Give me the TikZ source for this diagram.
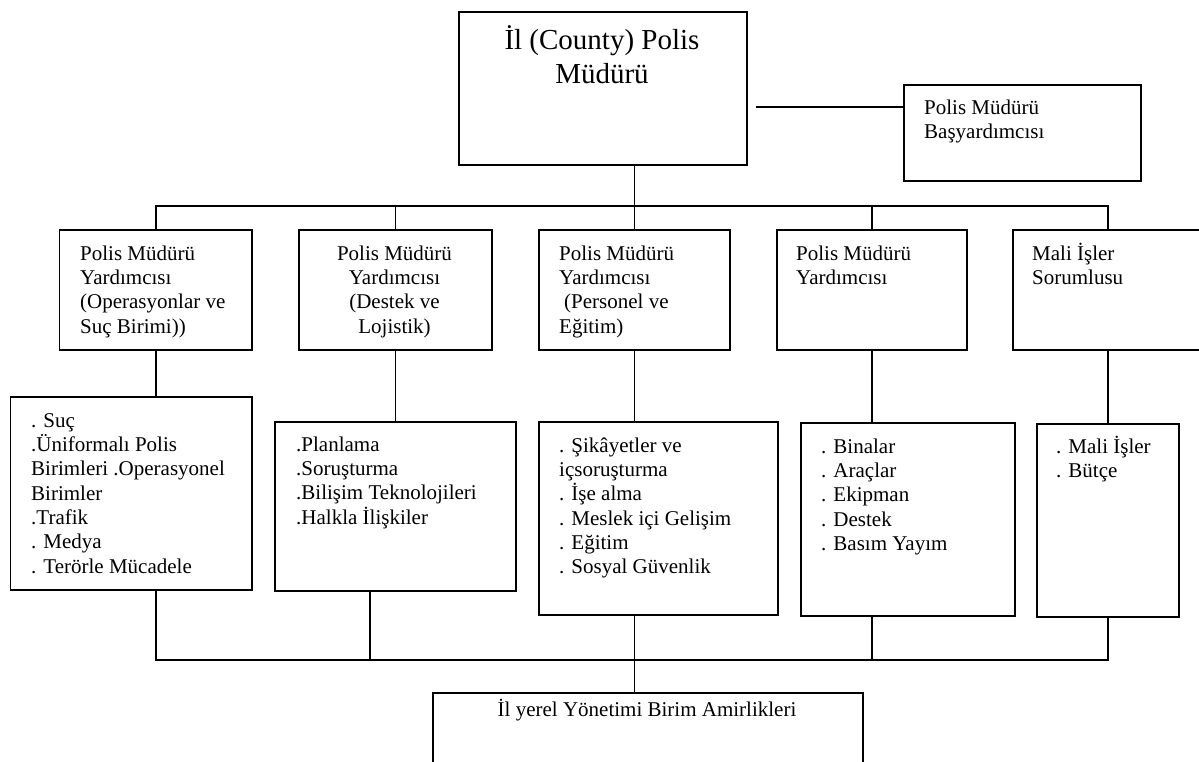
\documentclass[tikz,border=0pt]{standalone}
\usepackage{fontspec}
\setmainfont{Liberation Serif}
\begin{document}
\begin{tikzpicture}[x=1pt,y=-1pt,
  box/.style={draw,line width=1.8pt,rectangle,inner sep=0pt,anchor=north west},
  conn/.style={line width=1.8pt},
  txt/.style={inner sep=0pt,anchor=north west,align=left,font=\fontsize{21}{24.3}\selectfont},
  ctxt/.style={inner sep=0pt,anchor=north,align=center,font=\fontsize{21}{24.3}\selectfont}]
\path[use as bounding box] (0,0) rectangle (1199,762);
\clip (0,0) rectangle (1199,762);
% boxes
\node[box,minimum width=288pt,minimum height=153pt] (T) at (458,11) {};
\node[box,minimum width=237pt,minimum height=96pt] (B) at (903,84) {};
\node[box,minimum width=192.5pt,minimum height=120pt] (m1) at (58.5,229) {};
\node[box,minimum width=193pt,minimum height=120pt] (m2) at (298,229) {};
\node[box,minimum width=191pt,minimum height=120pt] (m3) at (538,229) {};
\node[box,minimum width=190pt,minimum height=120pt] (m4) at (776,229) {};
\node[box,minimum width=190pt,minimum height=120pt] (m5) at (1012,229) {};
\node[box,minimum width=241.4pt,minimum height=193pt] (l1) at (9.6,396) {};
\node[box,minimum width=241pt,minimum height=169pt] (l2) at (274,421) {};
\node[box,minimum width=239pt,minimum height=193pt] (l3) at (538,421) {};
\node[box,minimum width=214pt,minimum height=193pt] (l4) at (800,422) {};
\node[box,minimum width=142pt,minimum height=193pt] (l5) at (1036,423) {};
\node[box,minimum width=430pt,minimum height=120pt] (BB) at (432,692) {};
% texts
\node[ctxt,font=\fontsize{29}{34}\selectfont] (Tt) at (602,21) {\rule{0pt}{28pt}İl (County) Polis\\Müdürü};
\node[txt] (Bt) at (924,94) {\rule{0pt}{20pt}Polis Müdürü\\Başyardımcısı};
\node[txt] (m1t) at (80,240) {\rule{0pt}{20pt}Polis Müdürü\\Yardımcısı\\(Operasyonlar ve\\Suç Birimi))};
\node[ctxt] (m2t) at (394.5,240) {\rule{0pt}{20pt}Polis Müdürü\\Yardımcısı\\(Destek ve\\Lojistik)};
\node[txt] (m3t) at (559,240) {\rule{0pt}{20pt}Polis Müdürü\\Yardımcısı\\\hspace*{5pt}(Personel ve\\Eğitim)};
\node[txt] (m4t) at (796,240) {\rule{0pt}{20pt}Polis Müdürü\\Yardımcısı};
\node[txt] (m5t) at (1032,240) {\rule{0pt}{20pt}Mali İşler\\Sorumlusu};
\node[txt] (l1t) at (31,407) {\rule{0pt}{20pt}. Suç\\.Üniformalı Polis\\Birimleri .Operasyonel\\Birimler\\.Trafik\\. Medya\\. Terörle Mücadele};
\node[txt] (l2t) at (296,431) {\rule{0pt}{20pt}.Planlama\\.Soruşturma\\.Bilişim Teknolojileri\\.Halkla İlişkiler};
\node[txt] (l3t) at (559,432) {\rule{0pt}{20pt}. Şikâyetler ve\\içsoruşturma\\. İşe alma\\. Meslek içi Gelişim\\. Eğitim\\. Sosyal Güvenlik};
\node[txt] (l4t) at (821,433) {\rule{0pt}{20pt}. Binalar\\. Araçlar\\. Ekipman\\. Destek\\. Basım Yayım};
\node[txt] (l5t) at (1056,433) {\rule{0pt}{20pt}. Mali İşler\\. Bütçe};
\node[ctxt] (BBt) at (647,696) {\rule{0pt}{20pt}İl yerel Yönetimi Birim Amirlikleri};
% connectors
\coordinate (tb) at (756,107);
\coordinate (bus) at (0,206);
\coordinate (bus2) at (0,660);
\coordinate (x2) at (370,0);
\draw[conn] (tb) -- (tb -| B.west);
\draw[conn] (T.south -| m3.north) -- (m3.north);
\draw[conn] (m1.north) -- (m1.north |- bus) -- (m5.north |- bus) -- (m5.north);
\draw[conn] (m2.north) -- (m2.north |- bus);
\draw[conn] (m4.north) -- (m4.north |- bus);
\draw[conn] (m1.south) -- (m1.south |- l1.north);
\draw[conn] (m2.south) -- (m2.south |- l2.north);
\draw[conn] (m3.south) -- (m3.south |- l3.north);
\draw[conn] (m4.south) -- (m4.south |- l4.north);
\draw[conn] (m5.south) -- (m5.south |- l5.north);
\draw[conn] (l1.south -| m1.south) -- (m1.south |- bus2) -- (m5.south |- bus2) -- (l5.south -| m5.south);
\draw[conn] (l2.south -| x2) -- (x2 |- bus2);
\draw[conn] (l3.south -| m3.south) -- (m3.south |- BB.north);
\draw[conn] (l4.south -| m4.south) -- (m4.south |- bus2);
\end{tikzpicture}
\end{document}
